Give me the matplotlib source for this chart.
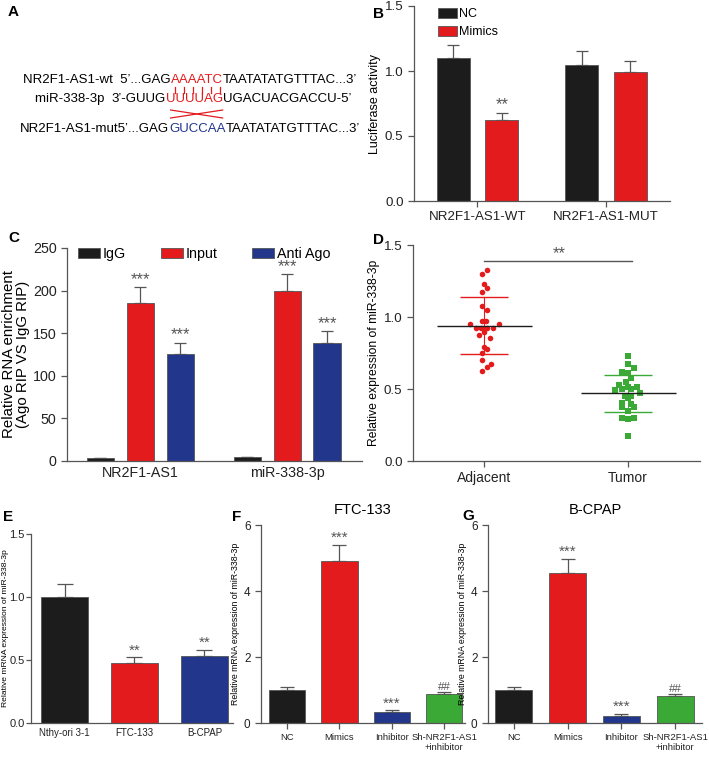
import numpy as np
import matplotlib
matplotlib.use('Agg')
import matplotlib.pyplot as plt

plt.rcParams['font.family'] = ['Liberation Sans', 'DejaVu Sans']

# ---- data ----
b_groups = ['NR2F1-AS1-WT', 'NR2F1-AS1-MUT']
b_nc = [1.10, 1.05]
b_nc_err = [0.10, 0.10]
b_mim = [0.62, 0.99]
b_mim_err = [0.06, 0.09]

c_groups = ['NR2F1-AS1', 'miR-338-3p']
c_igg = [3, 5]
c_igg_err = [0, 0]
c_input = [185, 200]
c_input_err = [19, 19]
c_ago = [126, 138]
c_ago_err = [13, 14]

d_cats = ['Adjacent', 'Tumor']
d_adj = [1.326, 1.302, 1.228, 1.202, 1.177, 1.074, 1.049, 0.953, 0.974, 0.974, 0.951, 0.923, 0.923,
         0.923, 0.923, 0.874, 0.895, 0.851, 0.795, 0.777, 0.751, 0.702, 0.674, 0.651, 0.626]
d_adj_dx = [0.023, -0.016, 0.002, 0.021, -0.016, -0.012, 0.023, -0.098, -0.016, 0.016, 0.102, -0.056, -0.021,
            0.023, 0.065, -0.035, 0.002, 0.044, 0.002, 0.023, -0.016, -0.016, 0.047, 0.023, -0.016]
d_tum = [0.726, 0.674, 0.644, 0.616, 0.614, 0.574, 0.551, 0.526, 0.516, 0.512, 0.500, 0.500, 0.493,
         0.474, 0.451, 0.451, 0.440, 0.400, 0.395, 0.377, 0.377, 0.349, 0.302, 0.302, 0.293, 0.177]
d_tum_dx = [0.0, 0.0, 0.040, -0.040, 0.0, 0.021, -0.014, -0.060, 0.002, 0.065, -0.040, 0.021, -0.088,
            0.081, -0.019, 0.021, 0.0, -0.040, 0.023, -0.040, 0.040, 0.0, -0.040, 0.040, 0.0, 0.0]
d_mean = [0.94, 0.47]
d_sd = [0.20, 0.13]

e_cats = ['Nthy-ori 3-1', 'FTC-133', 'B-CPAP']
e_vals = [1.00, 0.48, 0.53]
e_err = [0.10, 0.04, 0.05]
e_marks = ['', '**', '**']

fg_cats = ['NC', 'Mimics', 'Inhibitor', 'Sh-NR2F1-AS1\n+inhibitor']
f_vals = [1.00, 4.90, 0.32, 0.87]
f_err = [0.10, 0.50, 0.06, 0.06]
g_vals = [1.00, 4.55, 0.22, 0.82]
g_err = [0.10, 0.43, 0.06, 0.06]
fg_marks = ['', '***', '***', '##']

BLACK = '#1c1c1c'
RED = '#e31b1c'
BLUE = '#22368c'
GREEN = '#3ba935'
GREY = '#555555'

W, H = 709, 758
fig = plt.figure(figsize=(W / 100, H / 100), dpi=100)


def px(l, t, r, b):
    return [l / W, 1 - b / H, (r - l) / W, (b - t) / H]


def style(ax):
    for s in ['top', 'right']:
        ax.spines[s].set_visible(False)
    for s in ['left', 'bottom']:
        ax.spines[s].set_color(GREY)
        ax.spines[s].set_linewidth(0.9)
    ax.tick_params(colors=GREY, labelcolor='#222222', length=4, width=0.9, direction='out')


def bars(ax, x, vals, errs, color, width, cap=4):
    ax.bar(x, vals, width, color=color, edgecolor=GREY, linewidth=0.6, zorder=2)
    ax.errorbar(x, vals, yerr=[np.zeros(len(vals)), errs], fmt='none', ecolor=GREY,
                elinewidth=0.9, capsize=cap, capthick=0.9, zorder=1)


def marks(ax, x, vals, errs, labels, fs=12):
    for xi, v, e, m in zip(x, vals, errs, labels):
        if m == '##':
            ax.text(xi, v + e, m, ha='center', va='bottom', fontsize=fs * 0.75, color=GREY)
        elif m:
            ax.text(xi, v + e, m, ha='center', va='bottom', fontsize=fs, color=GREY)


# ---- A: sequences ----
axA = fig.add_axes([0, 0, 1, 1])
axA.set_xlim(0, W)
axA.set_ylim(H, 0)
axA.axis('off')
for lab, x0, y0 in [('A', 8, 16), ('B', 373, 18), ('C', 8, 242), ('D', 373, 244),
                    ('E', 3, 521), ('F', 232, 521), ('G', 462, 520)]:
    fig.text(x0 / W, 1 - y0 / H, lab, fontsize=11, fontweight='bold')

seq_lines = [
    (23, 80, [('NR2F1-AS1-wt  5\u2019...GAG', 'black'), ('AAAATC', RED), ('TAATATATGTTTAC...3\u2019', 'black')]),
    (35, 99, [('miR-338-3p  ', 'black'), ('3\u2019-GUUG', 'black'), ('UUUUAG', RED), ('UGACUACGACCU-5\u2019', 'black')]),
    (20, 129, [('NR2F1-AS1-mut5\u2019...GAG', 'black'), ('GUCCAA', BLUE), ('TAATATATGTTTAC...3\u2019', 'black')]),
]
colored = []
for x0, y0, parts in seq_lines:
    prev = None
    for s, c in parts:
        if prev is None:
            prev = axA.text(x0, y0, s, color=c, fontsize=9.5, va='center', ha='left')
        else:
            prev = axA.annotate(s, xy=(1, 0.5), xycoords=prev, color=c, fontsize=9.5,
                                va='center', ha='left')
        if c != 'black':
            colored.append(prev)

fig.canvas.draw()
inv = axA.transData.inverted()
bb1 = colored[0].get_window_extent()
bb2 = colored[1].get_window_extent()
l1, _ = inv.transform((bb1.x0, bb1.y0))
r1, _ = inv.transform((bb1.x1, bb1.y0))
l2, _ = inv.transform((bb2.x0, bb2.y0))
r2, _ = inv.transform((bb2.x1, bb2.y0))
l, r = max(l1, l2), min(r1, r2)
for xi in np.linspace(l + 4, r - 3, 6):
    axA.plot([xi, xi], [87, 93], color=RED, lw=0.9)
axA.plot([l, r], [110, 118], color=RED, lw=0.9)
axA.plot([l, r], [118, 110], color=RED, lw=0.9)

# ---- B: luciferase ----
axB = fig.add_axes(px(414, 6, 670, 201))
style(axB)
xb = np.arange(len(b_groups))
bars(axB, xb - 0.19, b_nc, b_nc_err, BLACK, 0.257)
bars(axB, xb + 0.19, b_mim, b_mim_err, RED, 0.257)
marks(axB, xb + 0.19, b_mim, b_mim_err, ['**', ''])
axB.set_xlim(-0.494, 1.498)
axB.set_ylim(0, 1.5)
axB.set_yticks([0, 0.5, 1.0, 1.5])
axB.set_yticklabels(['0.0', '0.5', '1.0', '1.5'], fontsize=9.6)
axB.set_xticks(xb)
axB.set_xticklabels(b_groups, fontsize=9.6)
axB.set_ylabel('Luciferase activity', fontsize=9, labelpad=3)
hb = [plt.Rectangle((0, 0), 1, 1, fc=BLACK, ec=GREY, lw=0.6),
      plt.Rectangle((0, 0), 1, 1, fc=RED, ec=GREY, lw=0.6)]
axB.legend(hb, ['NC', 'Mimics'], loc='upper left', bbox_to_anchor=(0.094, 0.99), frameon=False,
           borderpad=0, borderaxespad=0, fontsize=9, handlelength=1.55, handleheight=0.85,
           handletextpad=0.1, labelspacing=0.45)

# ---- C: RIP ----
axC = fig.add_axes(px(67, 248, 362, 461))
style(axC)
xc = np.arange(len(c_groups))
bars(axC, xc - 0.272, c_igg, c_igg_err, BLACK, 0.184)
bars(axC, xc, c_input, c_input_err, RED, 0.184)
bars(axC, xc + 0.272, c_ago, c_ago_err, BLUE, 0.184)
marks(axC, xc, c_input, c_input_err, ['***', '***'])
marks(axC, xc + 0.272, c_ago, c_ago_err, ['***', '***'])
axC.set_xlim(-0.497, 1.51)
axC.set_ylim(0, 250)
axC.set_yticks([0, 50, 100, 150, 200, 250])
axC.tick_params(axis='y', labelsize=10.3)
axC.set_xticks(xc)
axC.set_xticklabels(c_groups, fontsize=10.3)
axC.tick_params(axis='x', length=0)
axC.set_ylabel('Relative RNA enrichment\n(Ago RIP VS IgG RIP)', fontsize=10.8, labelpad=2, linespacing=1.05)
hc = [plt.Rectangle((0, 0), 1, 1, fc=c, ec=GREY, lw=0.6) for c in [BLACK, RED, BLUE]]
axC.legend(hc, ['IgG', 'Input', 'Anti Ago'], loc='upper left', bbox_to_anchor=(0.037, 1.005), ncol=3,
           frameon=False, borderpad=0, borderaxespad=0, fontsize=10.3, handlelength=1.55,
           handleheight=0.75, handletextpad=0.2, columnspacing=2.4)

# ---- D: scatter ----
axD = fig.add_axes(px(413, 245, 700, 461))
style(axD)
axD.scatter(0 + np.array(d_adj_dx), d_adj, s=16, color=RED, marker='o', zorder=3, linewidths=0)
axD.scatter(1 + np.array(d_tum_dx), d_tum, s=16, color=GREEN, marker='s', zorder=3, linewidths=0)
for i, col in enumerate([RED, GREEN]):
    axD.hlines(d_mean[i], i - 0.325, i + 0.335, color=BLACK, lw=1.0, zorder=4)
    axD.hlines([d_mean[i] - d_sd[i], d_mean[i] + d_sd[i]], i - 0.167, i + 0.167, color=col, lw=1.0, zorder=2)
    axD.vlines(i, d_mean[i] - d_sd[i], d_mean[i] + d_sd[i], color=col, lw=0.8, zorder=2)
axD.plot([0, 1.03], [1.39, 1.39], color=GREY, lw=1.0)
axD.text(0.52, 1.385, '**', ha='center', va='bottom', fontsize=12, color=GREY)
axD.set_xlim(-0.493, 1.5)
axD.set_ylim(0, 1.5)
axD.set_yticks([0, 0.5, 1.0, 1.5])
axD.set_yticklabels(['0.0', '0.5', '1.0', '1.5'], fontsize=9.6)
axD.set_xticks([0, 1])
axD.set_xticklabels(d_cats, fontsize=10)
axD.set_ylabel('Relative expression of miR-338-3p', fontsize=8.7, labelpad=3)

# ---- E ----
axE = fig.add_axes(px(31, 534, 233, 723))
style(axE)
xe = np.arange(len(e_cats))
for xi, v, e, c in zip(xe, e_vals, e_err, [BLACK, RED, BLUE]):
    bars(axE, [xi], [v], [e], c, 0.67, cap=6)
marks(axE, xe, e_vals, e_err, e_marks, fs=11)
axE.set_xlim(-0.48, 2.41)
axE.set_ylim(0, 1.5)
axE.set_yticks([0, 0.5, 1.0, 1.5])
axE.set_yticklabels(['0.0', '0.5', '1.0', '1.5'], fontsize=8)
axE.set_xticks(xe)
axE.set_xticklabels(e_cats, fontsize=7)
axE.tick_params(axis='x', length=0)
axE.tick_params(axis='y', pad=1, length=3.5)
axE.set_ylabel('Relative mRNA expression of miR-338-3p', fontsize=6.1)
axE.yaxis.set_label_coords(-0.11, 0.5)

# ---- F & G ----
for rect, vals, errs, title, xl in [((261, 525, 465, 723), f_vals, f_err, 'FTC-133', (-0.5, 3.4)),
                                    ((488, 525, 702, 723), g_vals, g_err, 'B-CPAP', (-0.48, 3.5))]:
    ax = fig.add_axes(px(*rect))
    style(ax)
    xf = np.arange(len(fg_cats))
    for xi, v, e, c in zip(xf, vals, errs, [BLACK, RED, BLUE, GREEN]):
        bars(ax, [xi], [v], [e], c, 0.69, cap=5)
    marks(ax, xf, vals, errs, fg_marks, fs=11)
    ax.set_xlim(*xl)
    ax.set_ylim(0, 6)
    ax.set_yticks([0, 2, 4, 6])
    ax.tick_params(axis='y', labelsize=8.5)
    ax.set_xticks(xf)
    ax.set_xticklabels(fg_cats, fontsize=6.8, linespacing=1.1)
    ax.set_ylabel('Relative mRNA expression of miR-338-3p', fontsize=6.3, labelpad=3)
    ax.set_title(title, fontsize=10.5, pad=8)

fig.savefig('out.png', dpi=100)
